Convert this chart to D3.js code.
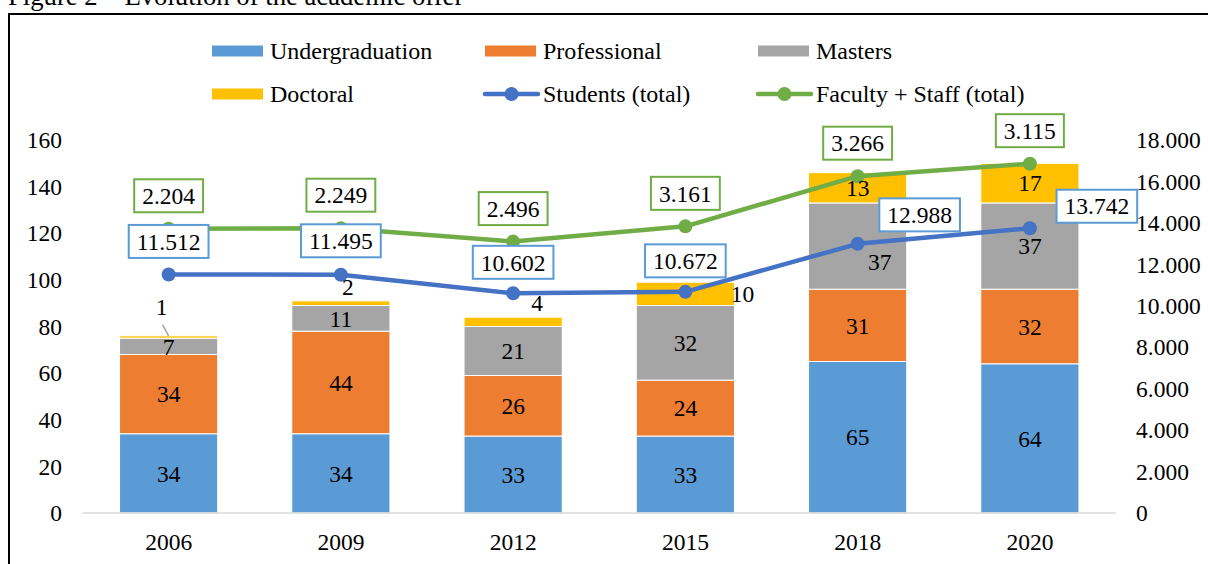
<!DOCTYPE html>
<html lang="en">
<head>
<meta charset="UTF-8">
<title>Figure 2 – Evolution of the academic offer</title>
<script src="https://d3js.org/d3.v7.min.js"></script>
<style>
  html, body { margin: 0; padding: 0; background: #fff; }
  svg { display: block; }
  text { font-family: "Liberation Serif", "Times New Roman", serif; fill: #000; }
</style>
</head>
<body>
<svg width="1208" height="564"></svg>
<script>
// data
const years = ["2006", "2009", "2012", "2015", "2018", "2020"];
const undergraduation = [34, 34, 33, 33, 65, 64];
const professional = [34, 44, 26, 24, 31, 32];
const masters = [7, 11, 21, 32, 37, 37];
const doctoral = [1, 2, 4, 10, 13, 17];
const students = [11512, 11495, 10602, 10672, 12988, 13742];
const facultyStaff = [2204, 2249, 2496, 3161, 3266, 3115];
const leftTicks = [0, 20, 40, 60, 80, 100, 120, 140, 160];
const rightTicks = [0, 2000, 4000, 6000, 8000, 10000, 12000, 14000, 16000, 18000];

const seriesNames = ["Undergraduation", "Professional", "Masters", "Doctoral"];
const barColors = ["#5B9BD5", "#ED7D31", "#A5A5A5", "#FFC000"];
const studentColor = "#4472C4", facultyColor = "#70AD47";

const svg = d3.select("svg");
const fs = 23.5;

// title (cut off at the top) and frame
svg.append("text").attr("x", 8).attr("y", 5)
  .style("font-size", "26.7px").text("Figure 2 – Evolution of the academic offer");
svg.append("rect").attr("x", 9).attr("y", 14).attr("width", 1400).attr("height", 700)
  .attr("fill", "none").attr("stroke", "#000").attr("stroke-width", 2);

const x = d3.scaleBand().domain(years).range([82.5, 1116]).paddingInner(0.43).paddingOuter(0.215);
const y = d3.scaleLinear().domain([0, 160]).range([513, 140]);
const y2 = d3.scaleLinear().domain([0, 18000]).range([513, 140]);
const fmt = d3.formatLocale({ decimal: ",", thousands: ".", grouping: [3], currency: ["", ""] }).format(",d");

// stacked bars
const rows = years.map((yr, i) => ({ year: yr, Undergraduation: undergraduation[i], Professional: professional[i], Masters: masters[i], Doctoral: doctoral[i] }));
const stack = d3.stack().keys(seriesNames)(rows);

stack.forEach((layer, k) => {
  svg.append("g").selectAll("rect").data(layer).join("rect")
    .attr("x", d => x(d.data.year))
    .attr("y", d => y(d[1]))
    .attr("width", x.bandwidth())
    .attr("height", d => y(d[0]) - y(d[1]))
    .attr("fill", barColors[k])
    .attr("stroke", "#fff").attr("stroke-width", 1);
});

// x axis line
svg.append("line").attr("x1", 82.5).attr("x2", 1116).attr("y1", 513).attr("y2", 513)
  .attr("stroke", "#D9D9D9").attr("stroke-width", 1.5);

svg.append("g").selectAll("text").data(years).join("text")
  .attr("x", d => x(d) + x.bandwidth() / 2).attr("y", 542).attr("dy", "0.35em")
  .attr("text-anchor", "middle").style("font-size", fs + "px").text(d => d);

svg.append("g").selectAll("text").data(leftTicks).join("text")
  .attr("x", 62).attr("y", d => y(d)).attr("dy", "0.35em")
  .attr("text-anchor", "end").style("font-size", fs + "px").text(d => d);

svg.append("g").selectAll("text").data(rightTicks).join("text")
  .attr("x", 1136).attr("y", d => y2(d)).attr("dy", "0.35em")
  .style("font-size", fs + "px").text(d => fmt(d));

// lines (faculty line is stacked on students, as in the original)
const cx = i => x(years[i]) + x.bandwidth() / 2;
const studentPts = students.map((v, i) => [cx(i), y2(v)]);
const facultyPts = facultyStaff.map((v, i) => [cx(i), y2(v + students[i])]);
const line = d3.line();

[[studentPts, studentColor], [facultyPts, facultyColor]].forEach(([pts, c]) => {
  svg.append("path").attr("d", line(pts)).attr("fill", "none")
    .attr("stroke", c).attr("stroke-width", 4.5).attr("stroke-linejoin", "round");
  svg.append("g").selectAll("circle").data(pts).join("circle")
    .attr("cx", d => d[0]).attr("cy", d => d[1]).attr("r", 7).attr("fill", c);
});

// bar labels
const nudge = {
  "Masters-2018": [22, 16],
  "Doctoral-2009": [7, null], "Doctoral-2012": [24, null], "Doctoral-2015": [57, null]
};
stack.forEach(layer => {
  layer.forEach(d => {
    const key = layer.key + "-" + d.data.year;
    let lx = x(d.data.year) + x.bandwidth() / 2;
    let ly = y((d[0] + d[1]) / 2);
    if (key === "Doctoral-2006") { lx -= 7; ly = y(d[1]) - 29; }
    else if (key === "Doctoral-2009" || key === "Doctoral-2012") { lx += nudge[key][0]; ly = y(d[1]) - 14; }
    else if (nudge[key]) { lx += nudge[key][0]; ly += nudge[key][1] || 0; }
    svg.append("text").attr("x", lx).attr("y", ly).attr("dy", "0.35em")
      .attr("text-anchor", "middle").style("font-size", fs + "px").text(d.data[layer.key]);
  });
});
// leader line for the "1"
const d06 = stack[3][0];
svg.append("line")
  .attr("x1", x("2006") + x.bandwidth() / 2 - 6).attr("y1", y(d06[1]) - 11)
  .attr("x2", x("2006") + x.bandwidth() / 2).attr("y2", y(d06[1]))
  .attr("stroke", "#A5A5A5").attr("stroke-width", 1.5);

// boxed line labels
function boxLabel(px, py, txt, color) {
  const g = svg.append("g");
  const t = g.append("text").attr("x", px).attr("y", py).attr("dy", "0.35em")
    .attr("text-anchor", "middle").style("font-size", fs + "px").text(txt);
  const w = t.node().getComputedTextLength() + 16;
  g.insert("rect", "text").attr("x", px - w / 2).attr("y", py - 16.5)
    .attr("width", w).attr("height", 33).attr("fill", "#fff")
    .attr("stroke", color).attr("stroke-width", 2);
}
const studentShift = [[0, -33], [0, -34], [0, -31], [0, -31], [62, -29], [67, -22]];
facultyPts.forEach((p, i) => boxLabel(p[0], p[1] - 33, fmt(facultyStaff[i]), facultyColor));
studentPts.forEach((p, i) => boxLabel(p[0] + studentShift[i][0], p[1] + studentShift[i][1], fmt(students[i]), "#5B9BD5"));

// legend
const legendItems = [
  { name: "Undergraduation", color: barColors[0], type: "bar", lx: 212, ly: 51 },
  { name: "Professional", color: barColors[1], type: "bar", lx: 485, ly: 51 },
  { name: "Masters", color: barColors[2], type: "bar", lx: 758, ly: 51 },
  { name: "Doctoral", color: barColors[3], type: "bar", lx: 212, ly: 94 },
  { name: "Students (total)", color: studentColor, type: "line", lx: 485, ly: 94 },
  { name: "Faculty + Staff (total)", color: facultyColor, type: "line", lx: 758, ly: 94 }
];
legendItems.forEach(it => {
  const g = svg.append("g").attr("transform", `translate(${it.lx},${it.ly})`);
  if (it.type === "bar") {
    g.append("rect").attr("x", 0).attr("y", -5.5).attr("width", 51).attr("height", 11).attr("fill", it.color);
  } else {
    g.append("line").attr("x1", 0).attr("x2", 53).attr("y1", 0).attr("y2", 0)
      .attr("stroke", it.color).attr("stroke-width", 4.5).attr("stroke-linecap", "round");
    g.append("circle").attr("cx", 26.5).attr("cy", 0).attr("r", 7).attr("fill", it.color);
  }
  g.append("text").attr("x", 58).attr("y", 0).attr("dy", "0.35em").style("font-size", "24px").text(it.name);
});
</script>
</body>
</html>
